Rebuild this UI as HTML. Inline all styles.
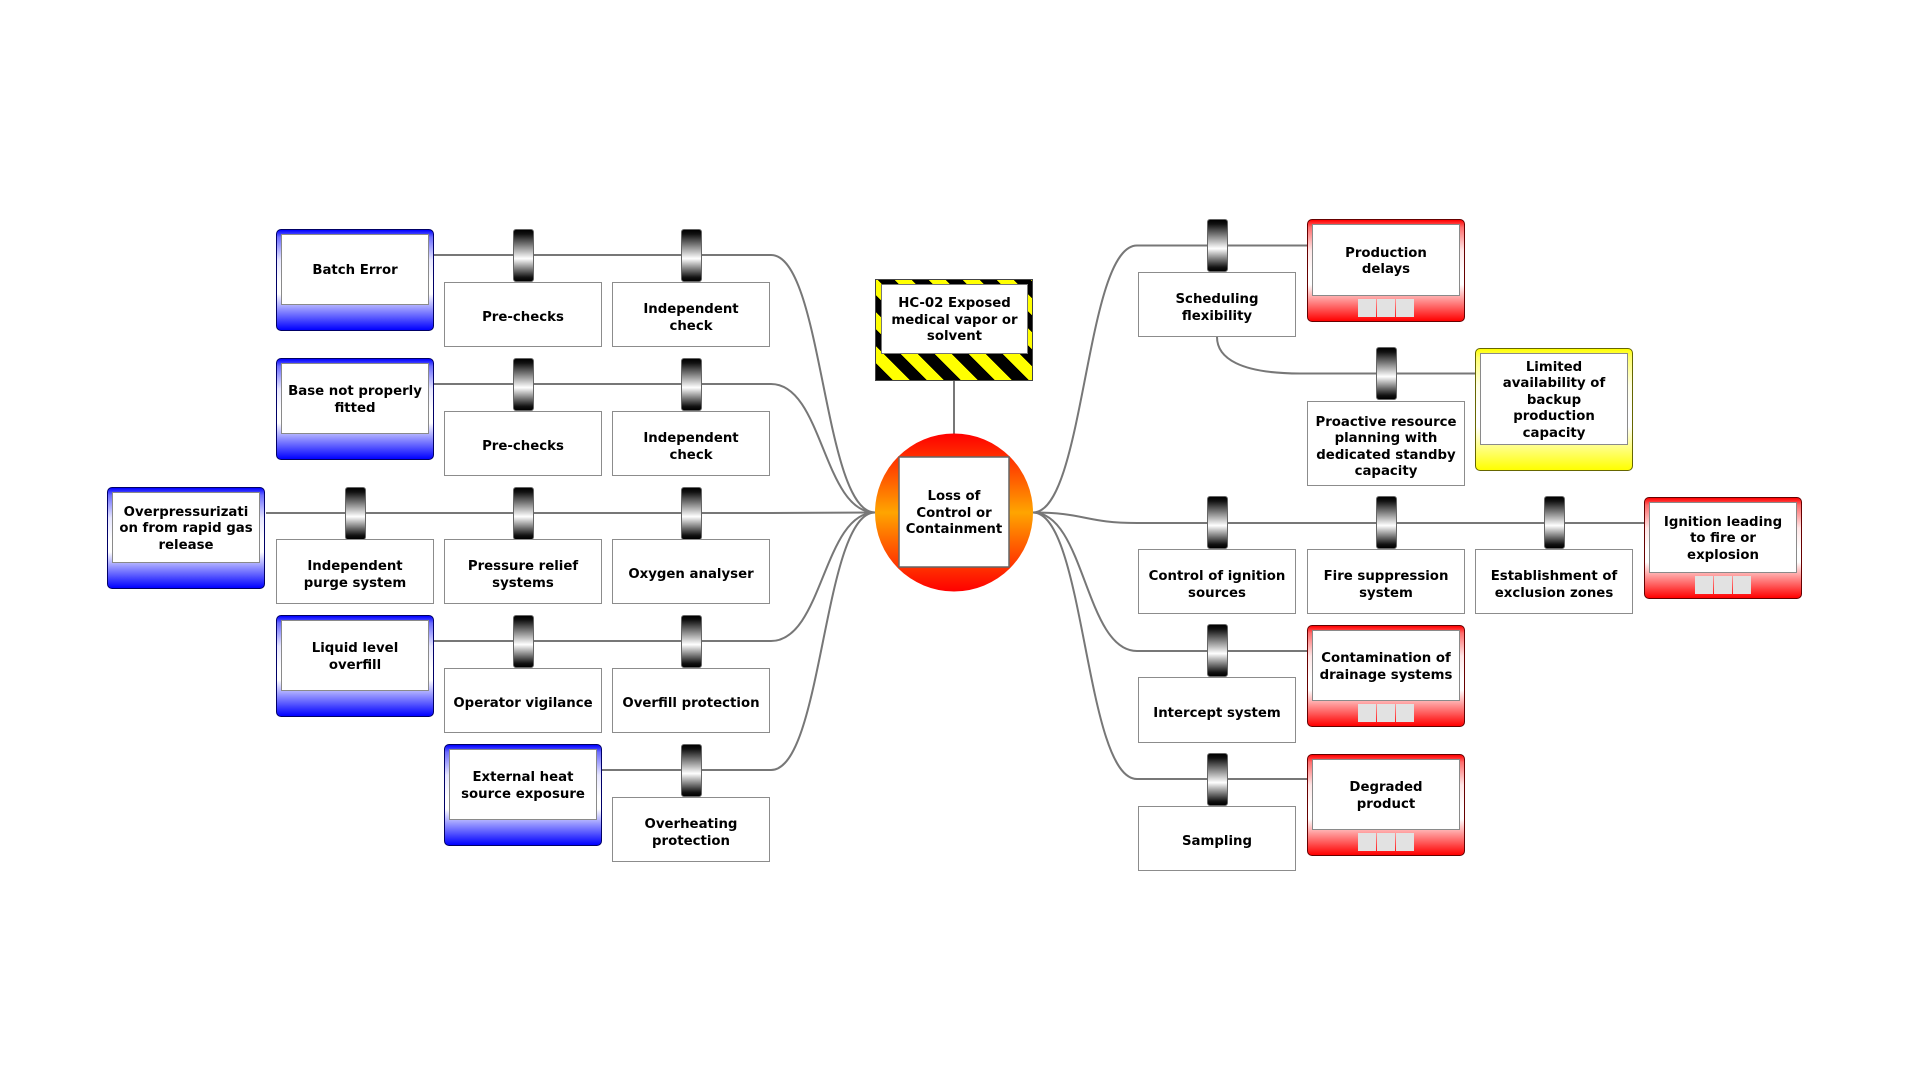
<!DOCTYPE html>
<html>
<head>
<meta charset="utf-8">
<style>
  html,body{margin:0;padding:0;background:#fff;}
  body{width:1920px;height:1080px;position:relative;overflow:hidden;}
  svg{position:absolute;left:0;top:0;}
  .t{font-family:"DejaVu Sans","Liberation Sans",sans-serif;font-weight:bold;font-size:13.3px;line-height:16.4px;color:#000;text-align:center;white-space:nowrap;display:flex;align-items:center;justify-content:center;}
  .bb{position:absolute;width:158px;height:65px;box-sizing:border-box;border:1.5px solid #8c8c8c;background:#fff;padding-top:8px;}
  .br{position:absolute;width:21px;height:53px;box-sizing:border-box;border:1px solid #666;border-radius:3px;
      background:linear-gradient(to bottom,#000 0%,#111 8%,#fff 56%,#111 93%,#000 100%);}
  .cb{position:absolute;width:158px;height:102px;box-sizing:border-box;border:1px solid #333;border-radius:5px;}
  .cb .in{position:absolute;left:4px;right:4px;top:4px;bottom:25px;box-sizing:border-box;border:1px solid #8a8a8a;background:#fff;padding-top:4px;}
  .blue{background:linear-gradient(to bottom,#0000ff 0%,#6b6bff 7%,#e6e6ff 30%,#fff 52%,#fff 64%,#0000ff 100%);border-color:#000066;}
  .red{background:linear-gradient(to bottom,#ff0000 0%,#ff6b6b 7%,#ffe6e6 30%,#fff 52%,#fff 64%,#ff0000 100%);border-color:#660000;}
  .yel{background:linear-gradient(to bottom,#ffff00 0%,#ffff6b 7%,#ffffe6 30%,#fff 52%,#fff 64%,#ffff00 100%);border-color:#666600;}
  .sq{position:absolute;left:50px;bottom:4px;width:56px;height:18px;}
  .sq i{position:absolute;top:0;width:18px;height:18px;background:#e2e2e2;}
  .hz{position:absolute;left:875px;top:279px;width:158px;height:102px;box-sizing:border-box;border:1px solid #444;
      background:repeating-linear-gradient(45deg,#000 0px,#000 12px,#ffff00 12px,#ffff00 24px);}
  .hz .in{position:absolute;left:5px;right:4px;top:4px;bottom:26px;box-sizing:border-box;border:1px solid #777;background:#fff;padding-top:4px;}
</style>
</head>
<body>
<svg width="1920" height="1080" viewBox="0 0 1920 1080">
  <defs>
    <linearGradient id="cg" x1="0" y1="0" x2="0" y2="1">
      <stop offset="0" stop-color="#ff0000"/>
      <stop offset="0.28" stop-color="#ff5a00"/>
      <stop offset="0.5" stop-color="#ffa500"/>
      <stop offset="0.72" stop-color="#ff5a00"/>
      <stop offset="1" stop-color="#ff0000"/>
    </linearGradient>
  </defs>
  <g fill="none" stroke="#777" stroke-width="2">
    <path d="M434,255 L771,255 C823,255 823,512.5 875,512.5"/>
    <path d="M434,384 L771,384 C823,384 823,512.5 875,512.5"/>
    <path d="M266,513 L771,513 C823,513 823,512.5 875,512.5"/>
    <path d="M434,641 L771,641 C823,641 823,512.5 875,512.5"/>
    <path d="M602,770 L771,770 C823,770 823,512.5 875,512.5"/>
    <path d="M1033,512.5 C1085,512.5 1085,245.5 1137,245.5 L1307,245.5"/>
    <path d="M1217,337 C1217,358 1240,373.5 1300,373.5 L1475,373.5"/>
    <path d="M1033,512.5 C1085,512.5 1085,523 1137,523 L1644,523"/>
    <path d="M1033,512.5 C1085,512.5 1085,651 1137,651 L1307,651"/>
    <path d="M1033,512.5 C1085,512.5 1085,779 1137,779 L1307,779"/>
    <path d="M954,381 L954,434"/>
  </g>
  <circle cx="954" cy="512.5" r="79" fill="url(#cg)"/>
  <rect x="899" y="457" width="110" height="110" fill="#fff" stroke="#666" stroke-width="1.5"/>
</svg>

<div class="t" style="position:absolute;left:899px;top:457px;width:110px;height:110px;box-sizing:border-box;padding-top:4px;">Loss of<br>Control or<br>Containment</div>
<div class="hz"><div class="in t">HC-02 Exposed<br>medical vapor or<br>solvent</div></div>

<div class="cb blue" style="left:276px;top:229px;"><div class="in t">Batch Error</div></div>
<div class="cb blue" style="left:276px;top:358px;"><div class="in t">Base not properly<br>fitted</div></div>
<div class="cb blue" style="left:107px;top:487px;"><div class="in t">Overpressurizati<br>on from rapid gas<br>release</div></div>
<div class="cb blue" style="left:276px;top:615px;"><div class="in t">Liquid level<br>overfill</div></div>
<div class="cb blue" style="left:444px;top:744px;"><div class="in t">External heat<br>source exposure</div></div>

<div class="br" style="left:512.5px;top:229px;"></div>
<div class="br" style="left:680.5px;top:229px;"></div>
<div class="br" style="left:512.5px;top:358px;"></div>
<div class="br" style="left:680.5px;top:358px;"></div>
<div class="br" style="left:344.5px;top:487px;"></div>
<div class="br" style="left:512.5px;top:487px;"></div>
<div class="br" style="left:680.5px;top:487px;"></div>
<div class="br" style="left:512.5px;top:615px;"></div>
<div class="br" style="left:680.5px;top:615px;"></div>
<div class="br" style="left:680.5px;top:744px;"></div>

<div class="bb t" style="left:444px;top:282px;">Pre-checks</div>
<div class="bb t" style="left:612px;top:282px;">Independent<br>check</div>
<div class="bb t" style="left:444px;top:411px;">Pre-checks</div>
<div class="bb t" style="left:612px;top:411px;">Independent<br>check</div>
<div class="bb t" style="left:276px;top:539px;">Independent<br>purge system</div>
<div class="bb t" style="left:444px;top:539px;">Pressure relief<br>systems</div>
<div class="bb t" style="left:612px;top:539px;">Oxygen analyser</div>
<div class="bb t" style="left:444px;top:668px;">Operator vigilance</div>
<div class="bb t" style="left:612px;top:668px;">Overfill protection</div>
<div class="bb t" style="left:612px;top:797px;">Overheating<br>protection</div>

<div class="br" style="left:1206.5px;top:219px;"></div>
<div class="br" style="left:1375.5px;top:347px;"></div>
<div class="br" style="left:1206.5px;top:496px;"></div>
<div class="br" style="left:1375.5px;top:496px;"></div>
<div class="br" style="left:1543.5px;top:496px;"></div>
<div class="br" style="left:1206.5px;top:624px;"></div>
<div class="br" style="left:1206.5px;top:753px;"></div>

<div class="bb t" style="left:1138px;top:272px;">Scheduling<br>flexibility</div>
<div class="bb t" style="left:1307px;top:401px;height:85px;">Proactive resource<br>planning with<br>dedicated standby<br>capacity</div>
<div class="bb t" style="left:1138px;top:549px;">Control of ignition<br>sources</div>
<div class="bb t" style="left:1307px;top:549px;">Fire suppression<br>system</div>
<div class="bb t" style="left:1475px;top:549px;">Establishment of<br>exclusion zones</div>
<div class="bb t" style="left:1138px;top:677px;height:66px;">Intercept system</div>
<div class="bb t" style="left:1138px;top:806px;">Sampling</div>

<div class="cb red" style="left:1307px;top:219px;height:103px;"><div class="in t">Production<br>delays</div><div class="sq"><i style="left:0"></i><i style="left:19px"></i><i style="left:38px"></i></div></div>
<div class="cb yel" style="left:1475px;top:348px;height:123px;"><div class="in t">Limited<br>availability of<br>backup<br>production<br>capacity</div></div>
<div class="cb red" style="left:1644px;top:497px;"><div class="in t">Ignition leading<br>to fire or<br>explosion</div><div class="sq"><i style="left:0"></i><i style="left:19px"></i><i style="left:38px"></i></div></div>
<div class="cb red" style="left:1307px;top:625px;"><div class="in t">Contamination of<br>drainage systems</div><div class="sq"><i style="left:0"></i><i style="left:19px"></i><i style="left:38px"></i></div></div>
<div class="cb red" style="left:1307px;top:754px;"><div class="in t">Degraded<br>product</div><div class="sq"><i style="left:0"></i><i style="left:19px"></i><i style="left:38px"></i></div></div>

</body>
</html>
